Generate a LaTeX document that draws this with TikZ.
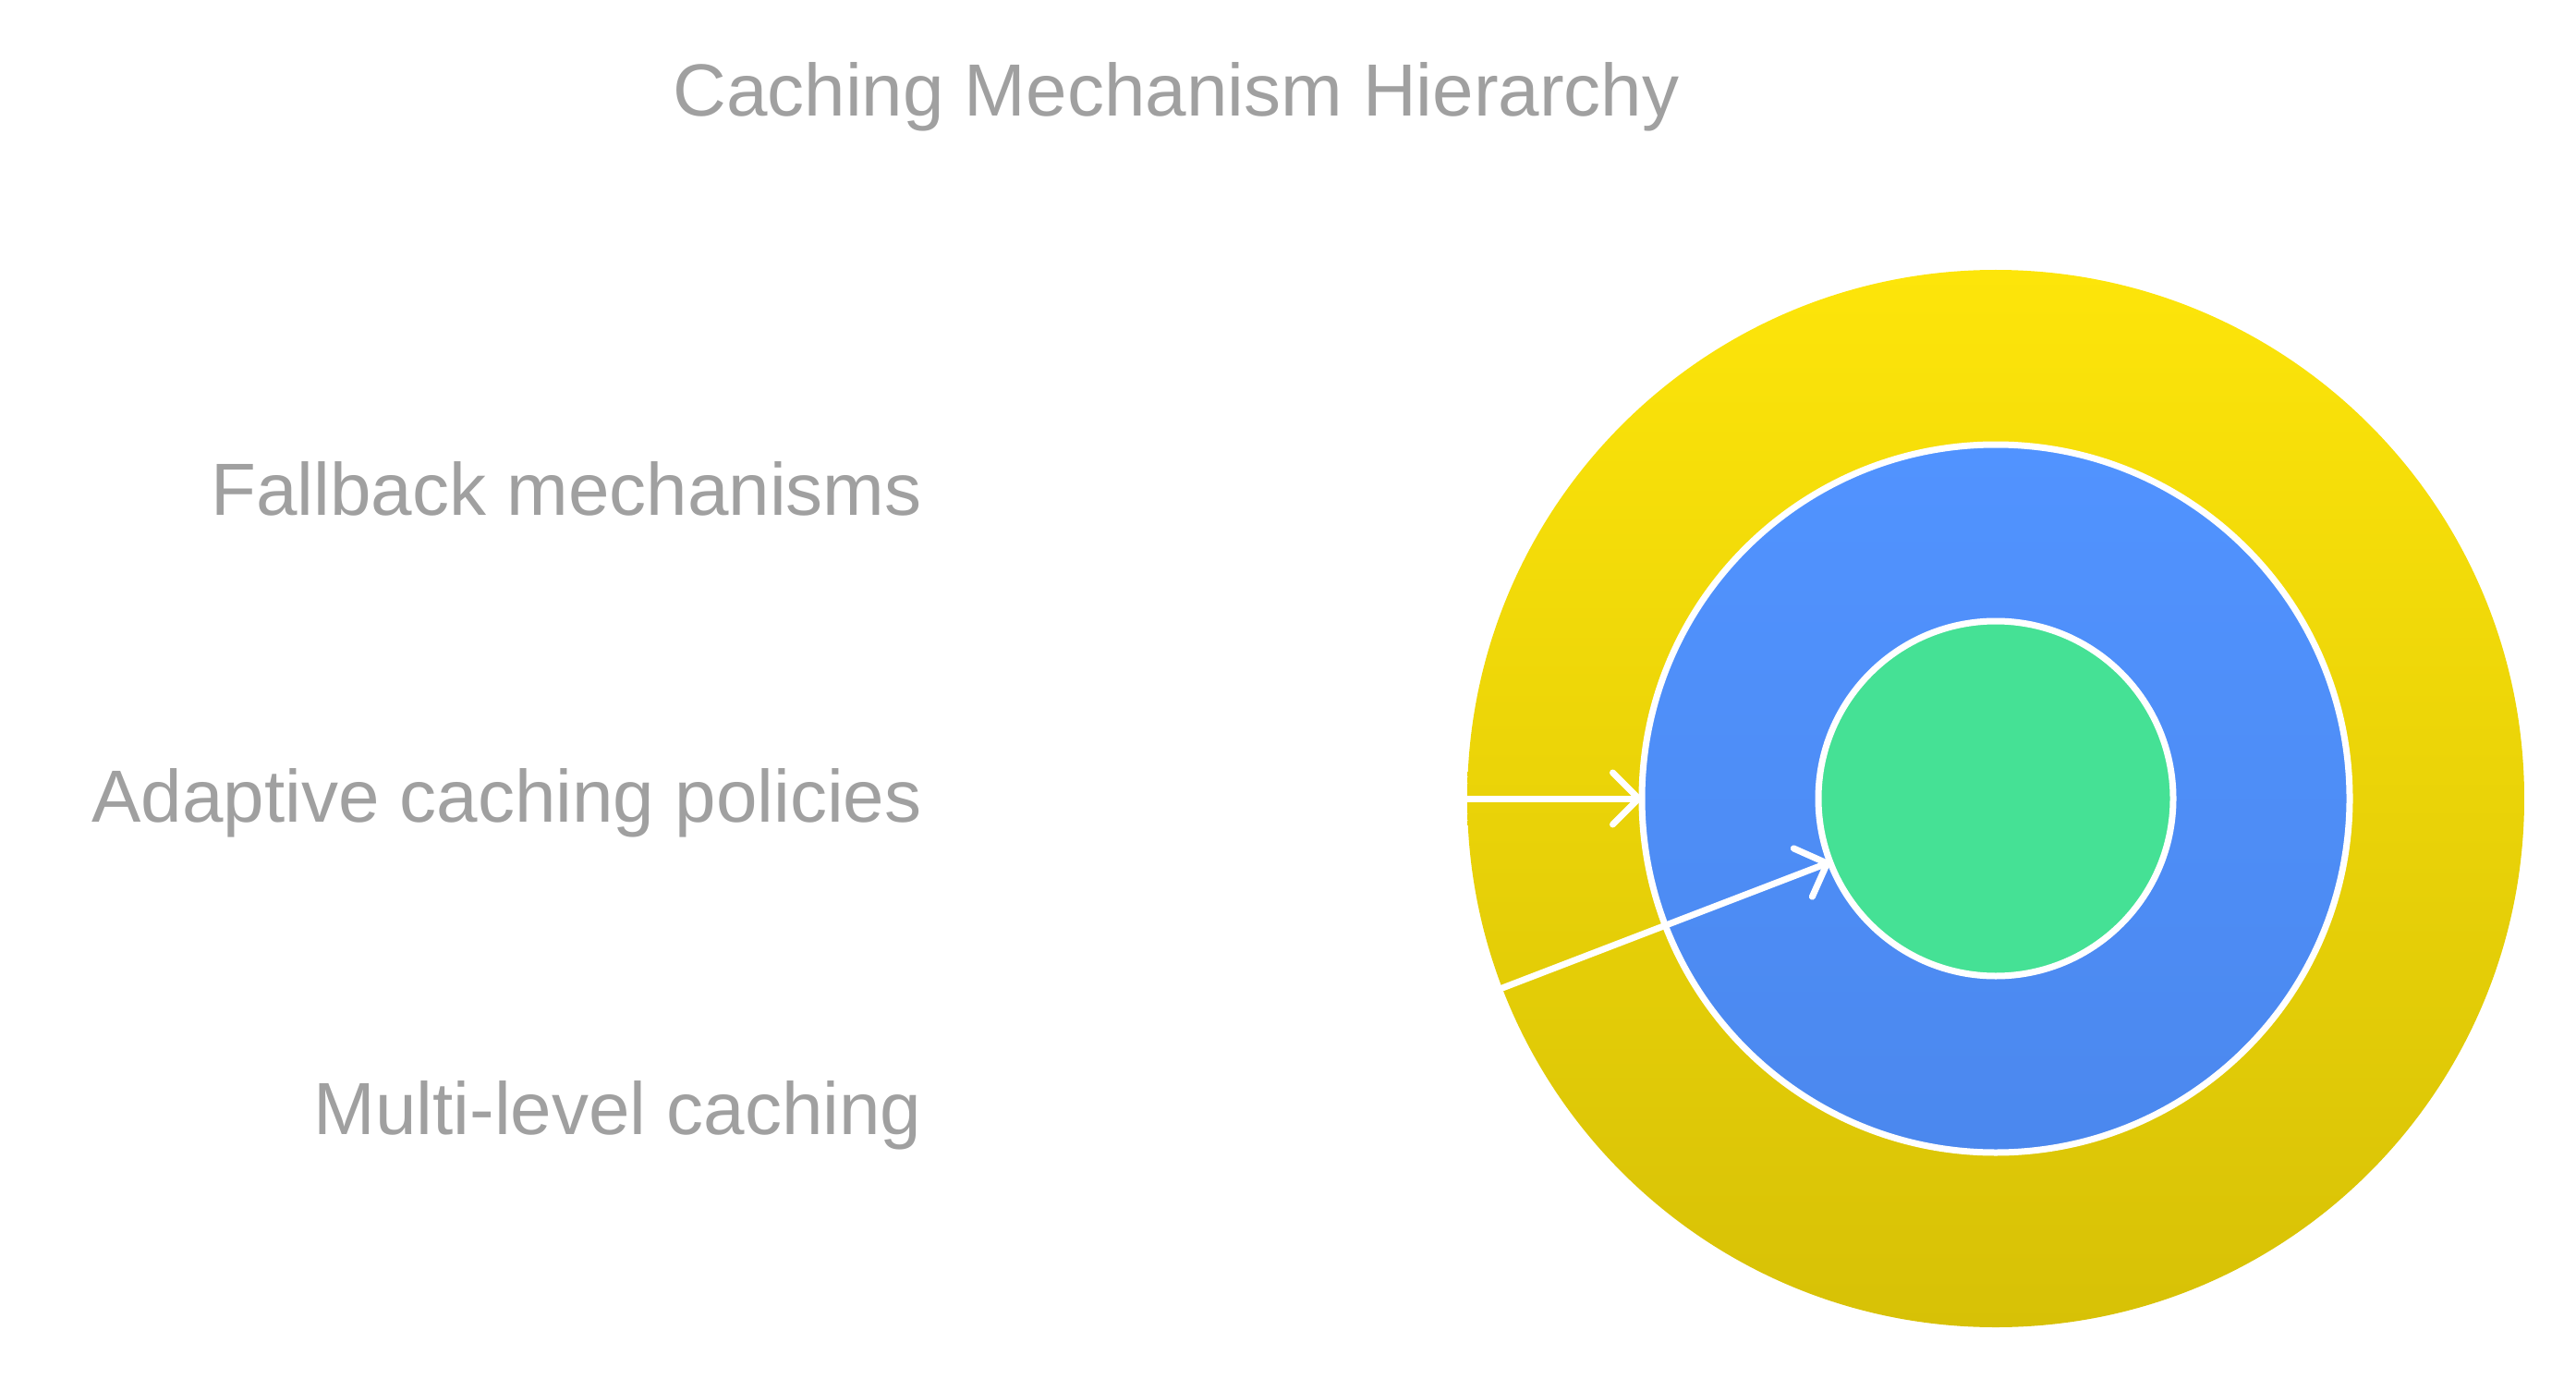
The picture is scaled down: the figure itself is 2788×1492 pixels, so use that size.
\documentclass[tikz,border=0pt]{standalone}
\usepackage{fontspec}
\setmainfont{Liberation Sans}
\usetikzlibrary{arrows.meta}
\definecolor{txtgray}{RGB}{160,160,160}
\definecolor{ytop}{RGB}{253,229,10}
\definecolor{ybot}{RGB}{215,193,6}
\definecolor{btop}{RGB}{81,147,255}
\definecolor{bbot}{RGB}{75,136,238}
\definecolor{grn}{RGB}{69,225,149}
\tikzset{
  lbl/.style={text=txtgray, font=\fontsize{40}{48}\selectfont, inner sep=0pt, anchor=base east},
  ttl/.style={text=txtgray, font=\fontsize{40}{48}\selectfont, inner sep=0pt, anchor=base},
  ring/.style={circle, inner sep=0pt, outer sep=0pt},
  conn/.style={draw=white, line width=3.5pt, line cap=round,
    -{Straight Barb[length=14pt,width=28pt,line cap=round,line join=round]}}
}
\begin{document}
\begin{tikzpicture}[x=0.5pt,y=0.5pt]
\useasboundingbox (0,0) rectangle (2788,-1492);
\node[ring, minimum size=572pt, top color=ytop, bottom color=ybot] (outer) at (2160,-864) {};
\node[ring, minimum size=383pt, top color=btop, bottom color=bbot, draw=white, line width=3.5pt] (mid) at (2160,-864) {};
\node[ring, minimum size=192pt, fill=grn, draw=white, line width=3.5pt] (inner) at (2160,-864) {};
\draw[conn] (outer.west) -- (mid.west);
\draw[conn] (outer.201) -- (inner.201);
\node[ttl] (title) at (1273,-126) {Caching Mechanism Hierarchy};
\node[lbl] (l1) at (998,-557) {Fallback mechanisms};
\node[lbl] (l2) at (998,-889) {Adaptive caching policies};
\node[lbl] (l3) at (998,-1227) {Multi-level caching};
\end{tikzpicture}
\end{document}
